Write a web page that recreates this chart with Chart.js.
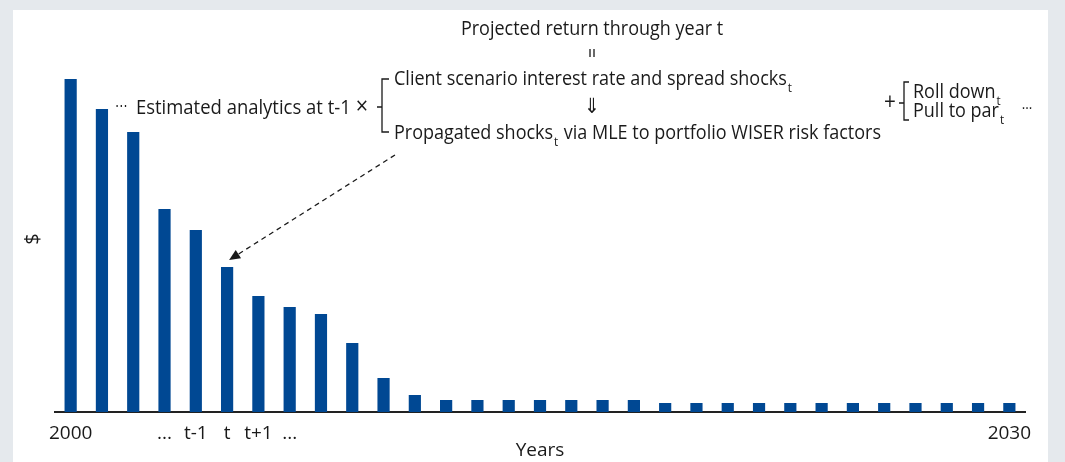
<!DOCTYPE html>
<html>
<head>
<meta charset="utf-8">
<script src="https://cdn.jsdelivr.net/npm/chart.js@4.4.1/dist/chart.umd.min.js"></script>
<style>
    html, body { margin: 0; padding: 0; background: #e5e9ed; }
    #panel { position: absolute; left: 13px; top: 10px; width: 1035px; height: 452px; background: #fff; }
</style>
</head>
<body>
<div id="panel"><canvas id="flowChart" width="1035" height="452"></canvas></div>
<script>
// years on the x axis
var years = ["2000", "2001", "2002", "2003", "2004", "2005", "2006", "2007", "2008", "2009",
             "2010", "2011", "2012", "2013", "2014", "2015", "2016", "2017", "2018", "2019",
             "2020", "2021", "2022", "2023", "2024", "2025", "2026", "2027", "2028", "2029", "2030"];
// labels actually shown under the bars
var tickLabels = ["2000", "", "", "...", "t-1", "t", "t+1", "...", "", "",
                  "", "", "", "", "", "", "", "", "", "",
                  "", "", "", "", "", "", "", "", "", "", "2030"];
// cash flow amounts ($, arbitrary units)
var cashFlows = [333, 303, 280, 203, 182, 145, 116, 105, 98, 69,
                 34, 17, 12, 12, 12, 12, 12, 12, 12, 9,
                 9, 9, 9, 9, 9, 9, 9, 9, 9, 9, 9];
var arrowBar = 5; // bar "t"

var FONT = '"Open Sans", "Noto Sans", sans-serif';
var INK = "#1a1a1a";
var SQUEEZE = 0.9; // narrower text for the formula

function text(ctx, s, x, y, size, align) {
    ctx.save();
    ctx.font = size + "px " + FONT;
    ctx.textAlign = align || "left";
    ctx.textBaseline = "middle";
    ctx.translate(x, y);
    ctx.scale(SQUEEZE, 1);
    ctx.fillText(s, 0, 0);
    var w = ctx.measureText(s).width * SQUEEZE;
    ctx.restore();
    return w;
}

// text followed by a subscript t, returns x after it
function withSub(ctx, s, x, y) {
    var w = text(ctx, s, x, y, 20);
    text(ctx, "t", x + w + 1, y + 9, 13);
    return x + w + 1 + 5;
}

function bracket(ctx, x, top, bottom, mid, hook, tick) {
    ctx.beginPath();
    ctx.moveTo(x + hook, top);
    ctx.lineTo(x, top);
    ctx.lineTo(x, bottom);
    ctx.lineTo(x + hook, bottom);
    ctx.moveTo(x - tick, mid);
    ctx.lineTo(x, mid);
    ctx.stroke();
}

var annotations = {
    id: "annotations",
    afterDraw: function (chart) {
        var ctx = chart.ctx;
        ctx.save();
        ctx.fillStyle = INK;
        ctx.strokeStyle = INK;
        ctx.lineWidth = 1.3;

        // y axis title
        ctx.save();
        ctx.translate(20, 229);
        ctx.rotate(-Math.PI / 2);
        ctx.font = "20px " + FONT;
        ctx.textAlign = "center";
        ctx.textBaseline = "middle";
        ctx.fillText("$", 0, 0);
        ctx.restore();

        text(ctx, "Projected return through year t", 579, 19, 20, "center");
        ctx.beginPath();
        ctx.moveTo(577, 39); ctx.lineTo(577, 47);
        ctx.moveTo(581, 39); ctx.lineTo(581, 47);
        ctx.stroke();

        text(ctx, "\u22EF", 108, 97, 14, "center");
        text(ctx, "Estimated analytics at t-1", 123, 98, 20.5);
        text(ctx, "\u00D7", 349, 97, 24, "center");
        bracket(ctx, 369, 69, 122, 97, 7, 5);

        withSub(ctx, "Client scenario interest rate and spread shocks", 381, 69);
        text(ctx, "\u21D3", 579, 97, 21, "center");
        var nx = withSub(ctx, "Propagated shocks", 381, 123);
        text(ctx, " via MLE to portfolio WISER risk factors", nx, 123, 20);

        text(ctx, "+", 877, 93, 23, "center");
        bracket(ctx, 891, 72, 110, 93, 5, 5);
        withSub(ctx, "Roll down", 900, 82);
        withSub(ctx, "Pull to par", 900, 101);
        text(ctx, "...", 1014, 95, 15, "center");

        // dashed arrow to bar t
        var bar = chart.getDatasetMeta(0).data[arrowBar];
        var tx = bar.x + 2, ty = bar.y - 7;
        var sx = 382, sy = 145;
        var ang = Math.atan2(ty - sy, tx - sx);
        var hl = 11;
        ctx.setLineDash([5, 4]);
        ctx.beginPath();
        ctx.moveTo(sx, sy);
        ctx.lineTo(tx - hl * Math.cos(ang), ty - hl * Math.sin(ang));
        ctx.stroke();
        ctx.setLineDash([]);
        ctx.beginPath();
        ctx.moveTo(tx, ty);
        ctx.lineTo(tx - hl * Math.cos(ang) + 5 * Math.sin(ang), ty - hl * Math.sin(ang) - 5 * Math.cos(ang));
        ctx.lineTo(tx - hl * Math.cos(ang) - 5 * Math.sin(ang), ty - hl * Math.sin(ang) + 5 * Math.cos(ang));
        ctx.closePath();
        ctx.fill();
        ctx.restore();
    }
};

var ctx = document.getElementById("flowChart").getContext("2d");

new Chart(ctx, {
    type: "bar",
    data: {
        labels: years,
        datasets: [{
            label: "Cash flow",
            data: cashFlows,
            backgroundColor: "#004893",
            borderWidth: 0,
            categoryPercentage: 1,
            barPercentage: 0.39
        }]
    },
    options: {
        responsive: false,
        animation: false,
        layout: { padding: { top: 2, right: 23, left: 0, bottom: 0 } },
        plugins: {
            legend: { display: false },
            tooltip: { enabled: false }
        },
        scales: {
            x: {
                grid: { display: false, drawTicks: false },
                border: { display: true, color: "#222", width: 2 },
                ticks: {
                    autoSkip: false,
                    maxRotation: 0,
                    padding: 10,
                    color: INK,
                    font: { family: FONT, size: 19 },
                    callback: function (v, i) { return tickLabels[i]; }
                },
                title: {
                    display: true,
                    text: "Years",
                    color: INK,
                    font: { family: FONT, size: 19 },
                    padding: { top: 0, bottom: 0 }
                },
                afterFit: function (scale) { scale.height = 50; }
            },
            y: {
                min: 0,
                max: 400,
                grid: { display: false },
                border: { display: false },
                ticks: { display: false },
                afterFit: function (scale) { scale.width = 42; }
            }
        }
    },
    plugins: [annotations]
});
</script>
</body>
</html>
